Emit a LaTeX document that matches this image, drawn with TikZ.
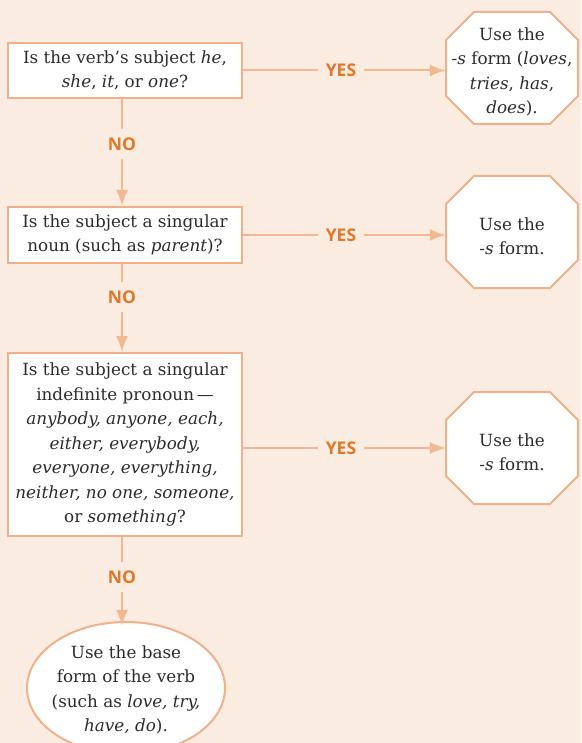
\documentclass[tikz,border=0pt]{standalone}
\usepackage{fontspec}
\setmainfont{DejaVu Serif}
\newfontfamily\tagfont{Open Sans}
\usetikzlibrary{arrows.meta}
\definecolor{paper}{HTML}{FAECE0}
\definecolor{edge}{HTML}{F0B08A}
\definecolor{flow}{HTML}{F2B892}
\definecolor{tagcol}{HTML}{E0782A}
\definecolor{ink}{HTML}{2C2C2C}

% octagon outline centred on a point, 132 x 112 with 28 chamfers
\newcommand\octagonat[2]{%
  \filldraw[shapeedge] (#1,#2) ++(-38,-56) -- ++(76,0) -- ++(28,28) -- ++(0,56)
    -- ++(-28,28) -- ++(-76,0) -- ++(-28,-28) -- ++(0,-56) -- cycle;}

\begin{document}
\begin{tikzpicture}[x=1pt,y=-1pt,
  shapeedge/.style={draw=edge, line width=2pt, fill=white, line join=miter},
  txt/.style={text=ink, align=center, inner sep=0pt,
              font=\fontsize{16.8}{24.5}\selectfont},
  question/.style={txt, draw=edge, line width=2pt, fill=white,
              minimum width=234pt},
  answer/.style={txt, minimum width=132pt, minimum height=112pt},
  tag/.style={text=tagcol, font=\tagfont\bfseries\fontsize{17.5}{20}\selectfont,
              inner xsep=8pt, inner ysep=8pt},
  conn/.style={draw=flow, line width=2pt},
  arr/.style={conn, -{Latex[length=16pt,width=12pt]}}
]
% page and backdrop
\fill[paper] (0,0) rectangle (581,743);
\useasboundingbox (0,0) rectangle (581,743);

% question boxes
\node[question, minimum height=55pt] (b1) at (125,70.5)
  {Is the verb's subject \textit{he},\\ \textit{she}, \textit{it}, or \textit{one}?};
\node[question, minimum height=56pt] (b2) at (125,235)
  {Is the subject a singular\\ noun (such as \textit{parent})?};
\node[question, minimum height=183pt] (b3) at (125,444.5)
  {Is the subject a singular\\ indefinite pronoun\,---\\
   \textit{anybody, anyone, each,}\\ \textit{either, everybody,}\\
   \textit{everyone, everything,}\\ \textit{neither, no one, someone,}\\
   or \textit{something}?};

% answer octagons
\octagonat{512}{68}
\octagonat{512}{232}
\octagonat{512}{448}
\node[answer] (o1) at (512,72)
  {Use the\\ \textit{-s} form (\textit{loves},\\ \textit{tries}, \textit{has},\\ \textit{does}).};
\node[answer] (o2) at (512,236) {Use the\\ \textit{-s} form.};
\node[answer] (o3) at (512,452) {Use the\\ \textit{-s} form.};

% final answer ellipse
\filldraw[shapeedge] (126,688) ellipse [x radius=99pt, y radius=66pt];
\node[txt, minimum width=198pt, minimum height=132pt] (base) at (126,690)
  {Use the base\\ form of the verb\\ (such as \textit{love, try,}\\ \textit{have, do}).};

% YES branches
\node[tag] (y1) at (341,70.5) {YES};
\node[tag] (y2) at (341,235) {YES};
\node[tag] (y3) at (341,448) {YES};
\draw[conn] (b1.east) -- (y1.west);
\draw[arr] (y1.east) -- (y1.east -| o1.west);
\draw[conn] (b2.east) -- (y2.west);
\draw[arr] (y2.east) -- (y2.east -| o2.west);
\draw[conn] (b3.east |- y3.west) -- (y3.west);
\draw[arr] (y3.east) -- (y3.east -| o3.west);

% NO branches
\node[tag] (n1) at (122,144) {NO};
\node[tag] (n2) at (122,297) {NO};
\node[tag] (n3) at (122,577) {NO};
\draw[conn] (n1 |- b1.south) -- (n1.north);
\draw[arr] (n1.south) -- (n1 |- b2.north);
\draw[conn] (n2 |- b2.south) -- (n2.north);
\draw[arr] (n2.south) -- (n2 |- b3.north);
\draw[conn] (n3 |- b3.south) -- (n3.north);
\draw[arr] (n3.south) -- ([yshift=-2pt]n3 |- base.north);
\end{tikzpicture}
\end{document}
